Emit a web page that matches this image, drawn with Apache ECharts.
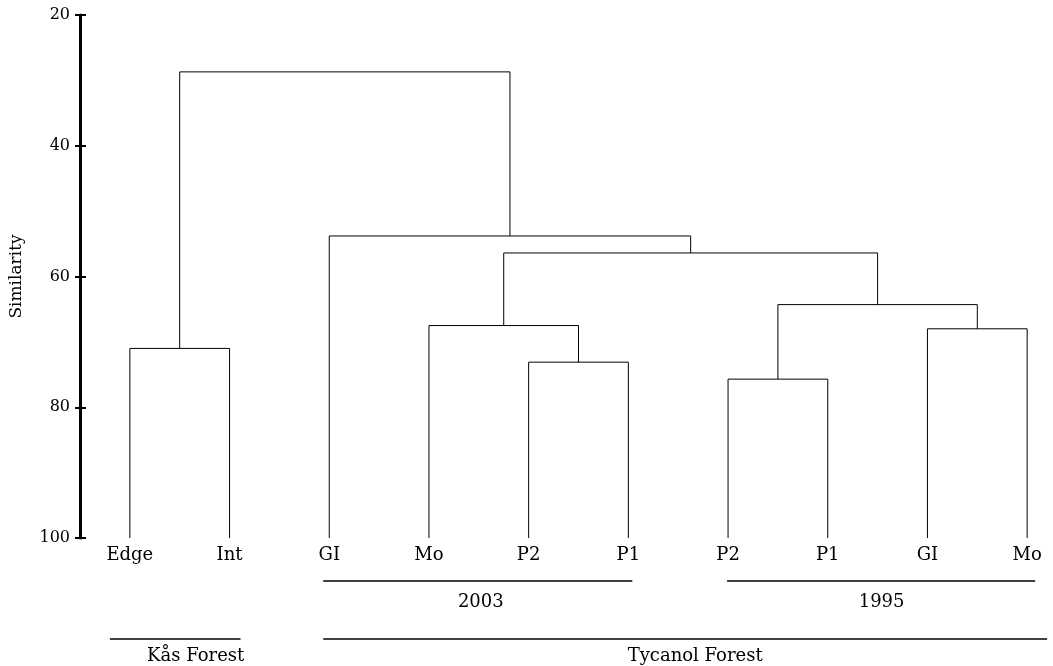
<!DOCTYPE html>
<html>
<head>
<meta charset="utf-8">
<script src="https://cdn.jsdelivr.net/npm/echarts@6/dist/echarts.min.js"></script>
<style>
  html, body { margin: 0; padding: 0; background: #fff; }
  #chart { width: 1053px; height: 666px; }
</style>
</head>
<body>
<div id="chart"></div>
<script>
// leaves, left to right
const leafLabels = ['Edge', 'Int', 'GI', 'Mo', 'P2', 'P1', 'P2', 'P1', 'GI', 'Mo']

// merges, linkage style: ids 0-9 are leaves, merge k gets id 10+k
const mergeLeft   = [0,    4,    6,    8,    3,    12,   14,   2,    10]
const mergeRight  = [1,    5,    7,    9,    11,   13,   15,   16,   17]
const mergeHeight = [71.0, 73.1, 75.7, 68.0, 67.5, 64.3, 56.4, 53.8, 28.7]

// group brackets under the leaves (start/end in leaf units, row 1 or 2)
const groupNames   = ['2003', '1995', 'Kås Forest', 'Tycanol Forest']
const groupStart   = [1.94, 5.99, -0.2, 1.94]
const groupEnd     = [5.04, 9.08, 1.11, 9.2]
const groupLabelAt = [3.52, 7.54, 0.66, 5.67]
const groupRow     = [1, 1, 2, 2]

const yTicks = [20, 40, 60, 80, 100]

const FONT = 'DejaVu Serif'

// x pos + height of every node
const nodeX = leafLabels.map((_, i) => i)
const nodeH = leafLabels.map(() => 100)
const links = []
mergeLeft.forEach((l, k) => {
  const r = mergeRight[k], h = mergeHeight[k]
  nodeX.push((nodeX[l] + nodeX[r]) / 2)
  nodeH.push(h)
  links.push({ coords: [[nodeX[l], nodeH[l]], [nodeX[l], h], [nodeX[r], h], [nodeX[r], nodeH[r]]] })
})

const groupData = groupNames.map((n, i) => [groupStart[i], groupEnd[i], groupLabelAt[i], groupRow[i], n])

let myChart = echarts.init(document.getElementById('chart'))
myChart.setOption({
  animation: false,
  backgroundColor: '#fff',
  grid: { left: 80, right: -24, top: 15, bottom: 128, containLabel: false, outerBoundsMode: 'none' },
  xAxis: [
    { type: 'value', min: -0.5, max: 9.5, show: false },
    {
      type: 'category', data: leafLabels, position: 'bottom',
      axisLine: { show: false }, axisTick: { show: false }, splitLine: { show: false },
      axisLabel: { interval: 0, margin: 8, color: '#000', fontFamily: FONT, fontSize: 18 }
    }
  ],
  yAxis: [
    {
      type: 'value', inverse: true, position: 'left', min: yTicks[0], max: yTicks[yTicks.length - 1], interval: 20,
      name: 'Similarity', nameLocation: 'middle', nameGap: 55, nameRotate: 90,
      nameTextStyle: { color: '#000', fontFamily: FONT, fontSize: 17 },
      axisLine: { show: true, onZero: false, lineStyle: { color: '#000', width: 3 } },
      axisTick: { show: true, length: 5, lineStyle: { color: '#000', width: 2 } },
      axisLabel: { color: '#000', fontFamily: FONT, fontSize: 16, margin: 10 },
      splitLine: { show: false }
    },
    {
      // inner half of the crossing ticks
      type: 'value', inverse: true, position: 'left', min: yTicks[0], max: yTicks[yTicks.length - 1], interval: 20,
      axisLine: { show: false, onZero: false },
      axisTick: { show: true, inside: true, length: 6, lineStyle: { color: '#000', width: 2 } },
      axisLabel: { show: false }, splitLine: { show: false }
    }
  ],
  series: [
    {
      type: 'lines', coordinateSystem: 'cartesian2d', polyline: true, clip: false,
      lineStyle: { color: '#000', width: 1, opacity: 1 },
      data: links, silent: true
    },
    {
      type: 'custom', clip: false, silent: true,
      data: groupData,
      renderItem: (params, api) => {
        const a = api.coord([api.value(0), 100])
        const b = api.coord([api.value(1), 100])
        const c = api.coord([api.value(2), 100])
        const row = api.value(3)
        const lineY = a[1] + (row === 1 ? 43 : 101)
        const textY = a[1] + (row === 1 ? 64 : 118)
        return {
          type: 'group',
          children: [
            { type: 'line', shape: { x1: a[0], y1: lineY, x2: b[0], y2: lineY }, style: { stroke: '#000', lineWidth: 1.5 } },
            { type: 'text', style: { text: groupData[params.dataIndex][4], x: c[0], y: textY, align: 'center', verticalAlign: 'middle', fill: '#000', font: '18px "' + FONT + '"' } }
          ]
        }
      }
    }
  ]
})
</script>
</body>
</html>
